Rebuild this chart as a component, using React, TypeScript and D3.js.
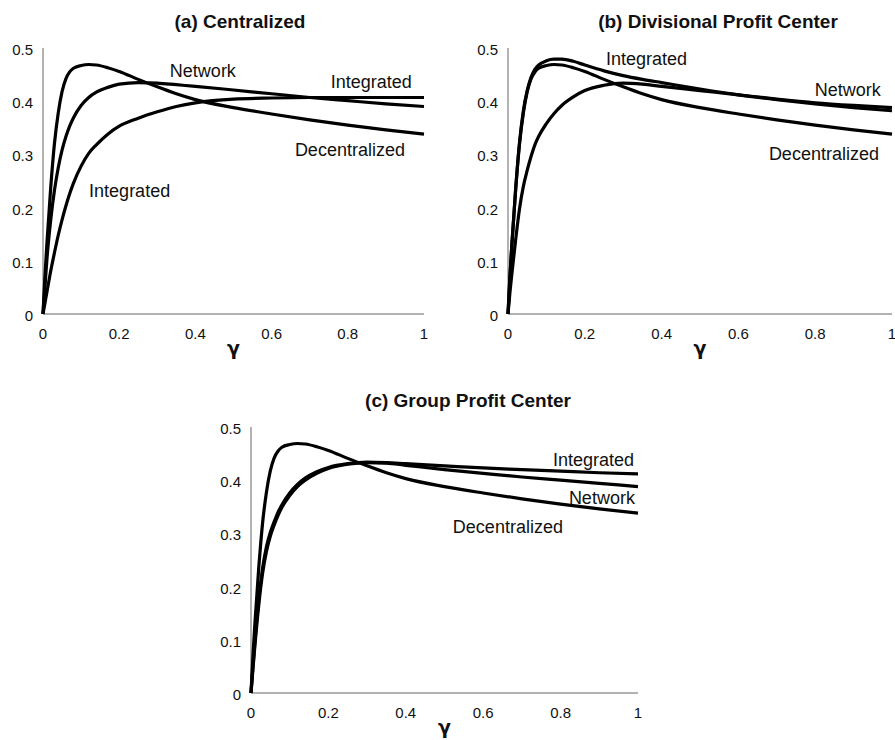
import * as d3 from 'd3';

// gamma grid shared by every curve
const GAMMA = [0, 0.005, 0.01, 0.02, 0.03, 0.04, 0.05, 0.06, 0.07, 0.08, 0.1, 0.12, 0.14, 0.17, 0.2, 0.25, 0.3, 0.35, 0.4, 0.5, 0.6, 0.7, 0.8, 0.9, 1];

// decentralized curve is the same in all three panels
const DECENTRALIZED = [0, 0.07, 0.13, 0.235, 0.32, 0.378, 0.418, 0.442, 0.455, 0.462, 0.467, 0.469, 0.468, 0.463, 0.456, 0.441, 0.427, 0.414, 0.403, 0.388, 0.376, 0.365, 0.355, 0.346, 0.338];

const A_INTEGRATED = [0, 0.02, 0.04, 0.08, 0.115, 0.148, 0.177, 0.203, 0.226, 0.246, 0.278, 0.302, 0.318, 0.338, 0.353, 0.368, 0.38, 0.39, 0.397, 0.404, 0.406, 0.407, 0.407, 0.407, 0.407];
const A_NETWORK = [0, 0.05, 0.1, 0.175, 0.232, 0.275, 0.308, 0.333, 0.353, 0.369, 0.392, 0.407, 0.417, 0.426, 0.432, 0.435, 0.434, 0.431, 0.428, 0.421, 0.414, 0.407, 0.401, 0.395, 0.39];

const B_INTEGRATED = [0, 0.07, 0.13, 0.235, 0.322, 0.382, 0.42, 0.445, 0.46, 0.468, 0.476, 0.479, 0.479, 0.475, 0.468, 0.457, 0.448, 0.441, 0.435, 0.423, 0.412, 0.403, 0.395, 0.388, 0.382];
const B_NETWORK = [0, 0.04, 0.075, 0.14, 0.198, 0.24, 0.27, 0.296, 0.318, 0.334, 0.358, 0.377, 0.392, 0.408, 0.42, 0.43, 0.434, 0.432, 0.428, 0.42, 0.412, 0.404, 0.397, 0.392, 0.388];

const C_INTEGRATED = [0, 0.05, 0.095, 0.175, 0.235, 0.275, 0.302, 0.322, 0.34, 0.354, 0.376, 0.392, 0.404, 0.416, 0.424, 0.431, 0.434, 0.433, 0.431, 0.427, 0.423, 0.42, 0.417, 0.414, 0.412];
const C_NETWORK = [0, 0.045, 0.088, 0.165, 0.225, 0.266, 0.295, 0.316, 0.334, 0.349, 0.371, 0.388, 0.4, 0.413, 0.422, 0.43, 0.433, 0.432, 0.428, 0.42, 0.413, 0.406, 0.4, 0.394, 0.388];

const X_TICKS = [0, 0.2, 0.4, 0.6, 0.8, 1];
const Y_TICKS = [0, 0.1, 0.2, 0.3, 0.4, 0.5];
const TITLES = ['(a) Centralized', '(b) Divisional Profit Center', '(c) Group Profit Center'];

const FONT = '"Liberation Sans", Arial, sans-serif';

type Label = { text: string; g: number; v: number; anchor: 'start' | 'end' };
type Panel = {
  title: string;
  titleX: number;
  x0: number; x1: number; yTop: number; yBottom: number;
  series: number[][];
  labels: Label[];
};

const panels: Panel[] = [
  {
    title: TITLES[0], titleX: 240,
    x0: 43, x1: 424, yTop: 48, yBottom: 314,
    series: [DECENTRALIZED, A_NETWORK, A_INTEGRATED],
    labels: [
      { text: 'Network', g: 0.333, v: 0.446, anchor: 'start' },
      { text: 'Integrated', g: 0.968, v: 0.425, anchor: 'end' },
      { text: 'Decentralized', g: 0.95, v: 0.297, anchor: 'end' },
      { text: 'Integrated', g: 0.121, v: 0.22, anchor: 'start' },
    ],
  },
  {
    title: TITLES[1], titleX: 718,
    x0: 508, x1: 892, yTop: 48, yBottom: 314,
    series: [DECENTRALIZED, B_NETWORK, B_INTEGRATED],
    labels: [
      { text: 'Integrated', g: 0.255, v: 0.468, anchor: 'start' },
      { text: 'Network', g: 0.971, v: 0.41, anchor: 'end' },
      { text: 'Decentralized', g: 0.966, v: 0.289, anchor: 'end' },
    ],
  },
  {
    title: TITLES[2], titleX: 468,
    x0: 251, x1: 638, yTop: 427, yBottom: 693,
    series: [DECENTRALIZED, C_NETWORK, C_INTEGRATED],
    labels: [
      { text: 'Integrated', g: 0.99, v: 0.426, anchor: 'end' },
      { text: 'Network', g: 0.992, v: 0.356, anchor: 'end' },
      { text: 'Decentralized', g: 0.806, v: 0.3, anchor: 'end' },
    ],
  },
];

function Chart({ p }: { p: Panel }) {
  const x = d3.scaleLinear().domain([0, 1]).range([p.x0, p.x1]);
  const y = d3.scaleLinear().domain([0, 0.5]).range([p.yBottom, p.yTop]);
  const line = d3.line<number>()
    .x((_, i) => x(GAMMA[i]))
    .y((d) => y(d))
    .curve(d3.curveMonotoneX);

  return (
    <g fontFamily={FONT}>
      <text x={p.titleX} y={p.yTop - 20} textAnchor="middle" fontWeight="bold" fontSize={19} fill="#111">
        {p.title}
      </text>
      {/* axes */}
      <line x1={x(0)} x2={x(0)} y1={y(0.5)} y2={y(0)} stroke="#666" strokeWidth={1} />
      <line x1={x(0)} x2={x(1)} y1={y(0)} y2={y(0)} stroke="#666" strokeWidth={1} />
      {Y_TICKS.map((t) => (
        <text key={'y' + t} x={x(0) - 10} y={y(t) + 7} textAnchor="end" fontSize={15} fill="#111">
          {String(t)}
        </text>
      ))}
      {X_TICKS.map((t) => (
        <text key={'x' + t} x={x(t)} y={y(0) + 25} textAnchor="middle" fontSize={15} fill="#111">
          {String(t)}
        </text>
      ))}
      <text
        x={(x(0) + x(1)) / 2}
        y={y(0) + 41}
        textAnchor="middle"
        fontFamily='"DejaVu Sans", sans-serif'
        fontWeight="bold"
        fontSize={19}
        fill="#111"
      >
        γ
      </text>
      {p.series.map((s, i) => (
        <path key={i} d={line(s) || ''} fill="none" stroke="#000" strokeWidth={3.2} strokeLinejoin="round" />
      ))}
      {p.labels.map((l, i) => (
        <text key={'l' + i} x={x(l.g)} y={y(l.v)} textAnchor={l.anchor} fontSize={18} fill="#111">
          {l.text}
        </text>
      ))}
    </g>
  );
}

export default function App() {
  return (
    <svg
      width={895}
      height={740}
      style={{ position: 'absolute', left: 0, top: 0, background: '#fff' }}
    >
      <rect width={895} height={740} fill="#fff" />
      {panels.map((p, i) => (
        <Chart key={i} p={p} />
      ))}
    </svg>
  );
}
